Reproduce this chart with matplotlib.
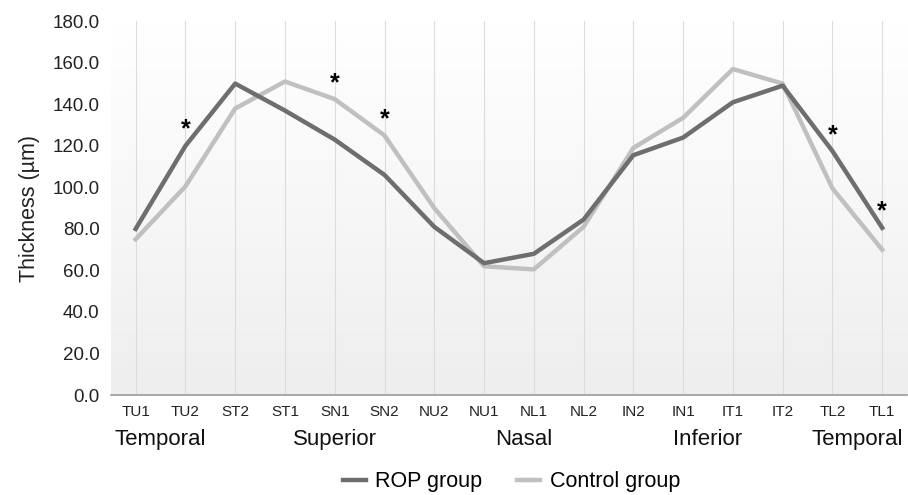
import numpy as np
import matplotlib.pyplot as plt
from matplotlib.colors import LinearSegmentedColormap

plt.rcParams["font.family"] = ["Liberation Sans", "DejaVu Sans"]

sectors = ["TU1", "TU2", "ST2", "ST1", "SN1", "SN2", "NU2", "NU1",
           "NL1", "NL2", "IN2", "IN1", "IT1", "IT2", "TL2", "TL1"]
rop = [80.0, 120.0, 150.0, 137.0, 123.0, 106.0, 81.0, 63.5,
       68.0, 84.5, 115.5, 124.0, 141.0, 149.0, 117.5, 80.5]
control = [75.0, 100.5, 138.0, 151.0, 142.5, 125.0, 90.0, 62.0,
           60.5, 81.0, 119.0, 133.5, 157.0, 150.0, 99.5, 70.0]
signif = ["TU2", "SN1", "SN2", "TL2", "TL1"]
regions = ["Temporal", "Superior", "Nasal", "Inferior", "Temporal"]
region_pos = [0.5, 4.0, 7.8, 11.5, 14.5]

dark = "#6e6e6e"
light = "#c0c0c0"

fig = plt.figure(figsize=(9.08, 4.95), dpi=100)
ax = fig.add_axes([0.122, 0.202, 0.877, 0.755])

x = np.arange(len(sectors))
ax.set_xlim(-0.5, len(sectors) - 0.5)
ax.set_ylim(0, 180)

# background gradient, white at top to light grey at bottom
grad = np.linspace(0, 1, 256).reshape(-1, 1)
bg = LinearSegmentedColormap.from_list("bg", ["#eeeeee", "#f7f7f7", "#ffffff"])
ax.imshow(grad, extent=[-0.5, len(sectors) - 0.5, 0, 180], aspect="auto",
          cmap=bg, origin="lower", zorder=0)

for xi in x:
    ax.axvline(xi, color="#dcdcdc", lw=0.8, zorder=1)

ax.plot(x, rop, color=dark, lw=3.2, label="ROP group", zorder=3)
ax.plot(x, control, color=light, lw=3.2, label="Control group", zorder=2)

for s in signif:
    i = sectors.index(s)
    top = max(rop[i], control[i])
    ax.annotate("*", (x[i], top), xytext=(0, 3), textcoords="offset points",
                ha="center", va="bottom", fontsize=18, fontweight="bold",
                color="black")

for sp in ["top", "right", "left"]:
    ax.spines[sp].set_visible(False)
ax.spines["bottom"].set_color("#9a9a9a")
ax.spines["bottom"].set_linewidth(1.2)

ax.set_yticks(np.arange(0, 181, 20))
ax.set_yticklabels([f"{v:.1f}" for v in np.arange(0, 181, 20)])
ax.tick_params(axis="y", length=0, labelsize=13.5, colors="#222222", pad=8)
ax.set_xticks(x)
ax.set_xticklabels(sectors)
ax.tick_params(axis="x", length=0, labelsize=11, colors="#222222", pad=7)
ax.set_ylabel("Thickness (µm)", fontsize=15.5, color="#222222", labelpad=9)

for name, pos in zip(regions, region_pos):
    ax.text(pos, -0.12, name, transform=ax.get_xaxis_transform(),
            ha="center", va="center", fontsize=16, color="#111111")

fig.legend(loc="center", bbox_to_anchor=(0.563, 0.027), ncol=2, frameon=False,
           fontsize=15.5, handlelength=1.07, columnspacing=1.6, handletextpad=0.45)

fig.savefig("out.png", dpi=100)
